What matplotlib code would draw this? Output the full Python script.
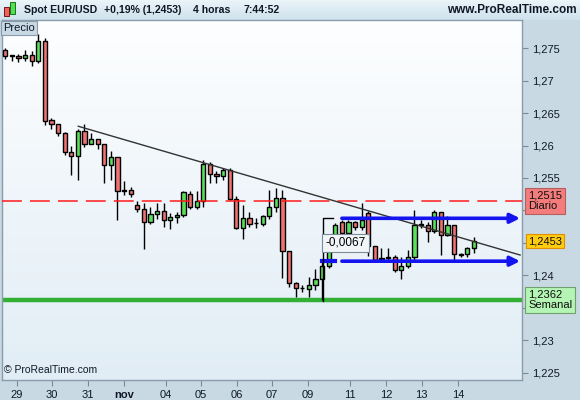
"""EUR/USD 4h candlestick chart, ProRealTime style."""

import matplotlib

matplotlib.use("Agg")
import matplotlib.pyplot as plt
import numpy as np
from matplotlib.colors import LinearSegmentedColormap
from matplotlib.patches import Rectangle
from matplotlib.transforms import blended_transform_factory

plt.rcParams["font.family"] = ["Liberation Sans", "DejaVu Sans"]

# 4h candles, oldest first
opens = [1.2747, 1.2739, 1.2737, 1.2735, 1.2739, 1.2730, 1.2761, 1.2639, 1.2633, 1.2619,
         1.2590, 1.2584, 1.2622, 1.2603, 1.2610, 1.2603, 1.2570, 1.2583, 1.2531, 1.2531,
         1.2508, 1.2502, 1.2482, 1.2494, 1.2499, 1.2485, 1.2490, 1.2493, 1.2526, 1.2506,
         1.2514, 1.2571, 1.2556, 1.2553, 1.2562, 1.2517, 1.2473, 1.2488, 1.2480, 1.2479,
         1.2491, 1.2506, 1.2519, 1.2438, 1.2388, 1.2380, 1.2379, 1.2386, 1.2394, 1.2414,
         1.2445, 1.2482, 1.2465, 1.2482, 1.2474, 1.2496, 1.2445, 1.2426, 1.2428, 1.2428,
         1.2408, 1.2414, 1.2428, 1.2478, 1.2478, 1.2468, 1.2497, 1.2462, 1.2477, 1.2433,
         1.2433, 1.2443]
highs = [1.2750, 1.2739, 1.2741, 1.2747, 1.2745, 1.2772, 1.2765, 1.2642, 1.2633, 1.2621,
         1.2599, 1.2626, 1.2633, 1.2619, 1.2610, 1.2603, 1.2592, 1.2583, 1.2545, 1.2536,
         1.2515, 1.2511, 1.2505, 1.2511, 1.2511, 1.2496, 1.2497, 1.2530, 1.2530, 1.2530,
         1.2578, 1.2574, 1.2561, 1.2566, 1.2565, 1.2522, 1.2508, 1.2498, 1.2488, 1.2493,
         1.2532, 1.2534, 1.2532, 1.2438, 1.2390, 1.2385, 1.2397, 1.2410, 1.2424, 1.2447,
         1.2480, 1.2486, 1.2486, 1.2484, 1.2511, 1.2499, 1.2446, 1.2442, 1.2442, 1.2432,
         1.2428, 1.2439, 1.2500, 1.2486, 1.2483, 1.2500, 1.2498, 1.2491, 1.2478, 1.2434,
         1.2444, 1.2459]
lows = [1.2733, 1.2730, 1.2728, 1.2730, 1.2723, 1.2727, 1.2632, 1.2626, 1.2615, 1.2585,
        1.2555, 1.2547, 1.2598, 1.2602, 1.2595, 1.2542, 1.2547, 1.2486, 1.2524, 1.2521,
        1.2498, 1.2440, 1.2479, 1.2487, 1.2475, 1.2471, 1.2480, 1.2490, 1.2502, 1.2503,
        1.2505, 1.2542, 1.2542, 1.2547, 1.2516, 1.2471, 1.2456, 1.2474, 1.2473, 1.2476,
        1.2487, 1.2497, 1.2396, 1.2383, 1.2367, 1.2375, 1.2367, 1.2378, 1.2362, 1.2411,
        1.2440, 1.2460, 1.2462, 1.2470, 1.2470, 1.2430, 1.2420, 1.2421, 1.2424, 1.2406,
        1.2394, 1.2411, 1.2424, 1.2473, 1.2452, 1.2465, 1.2432, 1.2460, 1.2420, 1.2428,
        1.2428, 1.2434]
closes = [1.2738, 1.2737, 1.2734, 1.2739, 1.2730, 1.2761, 1.2637, 1.2633, 1.2619, 1.2590,
          1.2584, 1.2622, 1.2603, 1.2610, 1.2603, 1.2570, 1.2583, 1.2530, 1.2530, 1.2525,
          1.2502, 1.2482, 1.2494, 1.2499, 1.2485, 1.2490, 1.2493, 1.2528, 1.2506, 1.2514,
          1.2572, 1.2556, 1.2553, 1.2562, 1.2517, 1.2473, 1.2488, 1.2479, 1.2480, 1.2491,
          1.2506, 1.2519, 1.2437, 1.2388, 1.2380, 1.2381, 1.2386, 1.2394, 1.2414, 1.2445,
          1.2478, 1.2465, 1.2482, 1.2474, 1.2485, 1.2445, 1.2424, 1.2426, 1.2427, 1.2408,
          1.2414, 1.2428, 1.2478, 1.2478, 1.2468, 1.2497, 1.2462, 1.2478, 1.2433, 1.2432,
          1.2443, 1.2453]

# day labels and the candle index where each day starts
day_labels = ["29", "30", "31", "nov", "04", "05", "06", "07", "09", "11", "12", "13", "14"]
day_pos = [1.77, 7.07, 12.53, 17.98, 24.35, 29.65, 35.1, 40.4, 45.86, 52.2, 57.7, 63.1, 68.6]

daily_level = 1.2515
weekly_level = 1.2362
last_price = 1.2453
trend_x = [11.06, 78.0]
trend_y = [1.26296, 1.24315]
channel_top = 1.2488
channel_bottom = 1.2422
channel_start = 51
measure_top = 1.2488
measure_bottom = 1.2360
measure_text = "-0,0067"

PANEL = "#c9d9e3"
EDGE = "#8a9cab"


def price_fmt(v):
    # tags on the right cover these levels
    if any(abs(v - h) < 1e-6 for h in (1.235, 1.245, 1.25)):
        return ""
    s = f"{v:.3f}".rstrip("0").rstrip(".")
    return s.replace(".", ",")


def main():
    fig = plt.figure(figsize=(5.8, 4.0), dpi=100)
    fig.patch.set_facecolor(PANEL)

    # header strip
    hax = fig.add_axes([0, 380 / 400, 1, 20 / 400])
    hcm = LinearSegmentedColormap.from_list("h", ["#eaf4f9", "#cfe2ec"])
    hax.imshow(np.linspace(0, 1, 20).reshape(-1, 1), aspect="auto", cmap=hcm,
               extent=[0, 1, 0, 1])
    hax.set_xlim(0, 1)
    hax.set_ylim(0, 1)
    hax.axis("off")
    hax.add_patch(Rectangle((4 / 580, 0.2), 5 / 580, 0.45, fc="#f06060", ec="#600000", lw=0.6))
    hax.add_patch(Rectangle((10 / 580, 0.3), 5 / 580, 0.6, fc="#50e050", ec="#006000", lw=0.6))
    hdr = dict(fontsize=7.6, fontweight="bold", color="#101828", va="center")
    hax.text(24 / 580, 0.5, "Spot EUR/USD", **hdr)
    hax.text(104 / 580, 0.5, "+0,19% (1,2453)", **hdr)
    hax.text(193 / 580, 0.5, "4 horas", **hdr)
    hax.text(244 / 580, 0.5, "7:44:52", **hdr)
    hax.text(577 / 580, 0.5, "www.ProRealTime.com", ha="right", fontsize=8.5,
             fontweight="bold", color="#101828", va="center")

    ax = fig.add_axes([2 / 580, 20 / 400, 520 / 580, 360 / 400])
    x = np.arange(len(opens))
    xlim = (-0.5, 78.29)
    ylim = (1.22392, 1.27931)

    bcm = LinearSegmentedColormap.from_list("b", ["#fdfeff", "#e1edf5"])
    ax.imshow(np.linspace(0, 1, 100).reshape(-1, 1), aspect="auto", cmap=bcm,
              extent=[xlim[0], xlim[1], ylim[0], ylim[1]], zorder=0)

    o = np.array(opens)
    c = np.array(closes)
    colors = np.where(c >= o, "#5ce05c", "#f07272")
    body_low = np.minimum(o, c)
    body_h = np.maximum(np.abs(c - o), 0.00008)
    ax.vlines(x, lows, highs, color="black", lw=1, zorder=3)
    ax.bar(x, body_h, bottom=body_low, width=0.62, color=colors, edgecolor="black",
           linewidth=1, zorder=4)

    ax.axhline(daily_level, color="#ff1a1a", lw=1.1, dashes=(13, 5.3), zorder=5)
    ax.axhline(weekly_level, color="#33b033", lw=3.2, zorder=2)
    ax.plot(trend_x, trend_y, color="#333333", lw=1, zorder=5)

    # channel lines with arrows
    for lvl in (channel_top, channel_bottom):
        ax.annotate("", xy=(78.0, lvl), xytext=(channel_start, lvl),
                    arrowprops=dict(arrowstyle="-|>", color="#1414f0", lw=2.6,
                                    mutation_scale=14, shrinkA=0, shrinkB=0), zorder=6)
    ax.plot([48.0, 50.0], [channel_bottom, channel_bottom], color="#1414f0", lw=3, zorder=6)

    # measuring bracket
    ax.plot([48.1, 48.1, 49.6], [measure_bottom, measure_top, measure_top],
            color="black", lw=1, zorder=6)
    ax.text(48.5, 1.24505, measure_text, fontsize=8.5, va="center", ha="left", zorder=7,
            bbox=dict(boxstyle="square,pad=0.25", fc="#f2f5f8", ec="#7a8a98", lw=0.8))

    ax.text(0.004, 0.028, "\u00a9 ProRealTime.com", transform=ax.transAxes, fontsize=7.5,
            color="#101828", va="center")

    ax.set_xlim(*xlim)
    ax.set_ylim(*ylim)

    yt = np.arange(1.225, 1.2751, 0.005)
    ax.yaxis.tick_right()
    ax.set_yticks(yt)
    ax.set_yticklabels([price_fmt(v) for v in yt])
    ax.set_xticks(day_pos)
    ax.set_xticklabels(day_labels)
    ax.get_xticklabels()[3].set_fontweight("bold")
    ax.tick_params(axis="both", direction="out", length=4, color="#7a8a98",
                   labelsize=8, labelcolor="#101828", width=0.8)
    ax.tick_params(axis="y", pad=3)
    ax.tick_params(axis="x", pad=3)
    for sp in ax.spines.values():
        sp.set_color(EDGE)
        sp.set_linewidth(1)

    # right-side level tags
    tr = blended_transform_factory(ax.transAxes, ax.transData)
    tag = dict(transform=tr, fontsize=8, va="center", ha="left", clip_on=False,
               zorder=10, linespacing=1.05, color="#101010")
    ax.text(1.012, daily_level, "1,2515\nDiario",
            bbox=dict(boxstyle="square,pad=0.25", fc="#f47c7c", ec="#b06060", lw=0.8), **tag)
    ax.text(1.012, last_price, "1,2453",
            bbox=dict(boxstyle="square,pad=0.2", fc="#ffcc10", ec="#e09000", lw=0.8), **tag)
    ax.text(1.012, weekly_level, "1,2362\nSemanal",
            bbox=dict(boxstyle="square,pad=0.25", fc="#b4f4b4", ec="#70a070", lw=0.8), **tag)

    fig.text(3 / 580, 1 - 28 / 400, "Precio", fontsize=8, va="center", color="#101828",
             bbox=dict(boxstyle="square,pad=0.2", fc=PANEL, ec=EDGE, lw=0.8))

    fig.savefig("out.png", dpi=100, facecolor=fig.get_facecolor())
    plt.close(fig)


if __name__ == "__main__":
    main()
